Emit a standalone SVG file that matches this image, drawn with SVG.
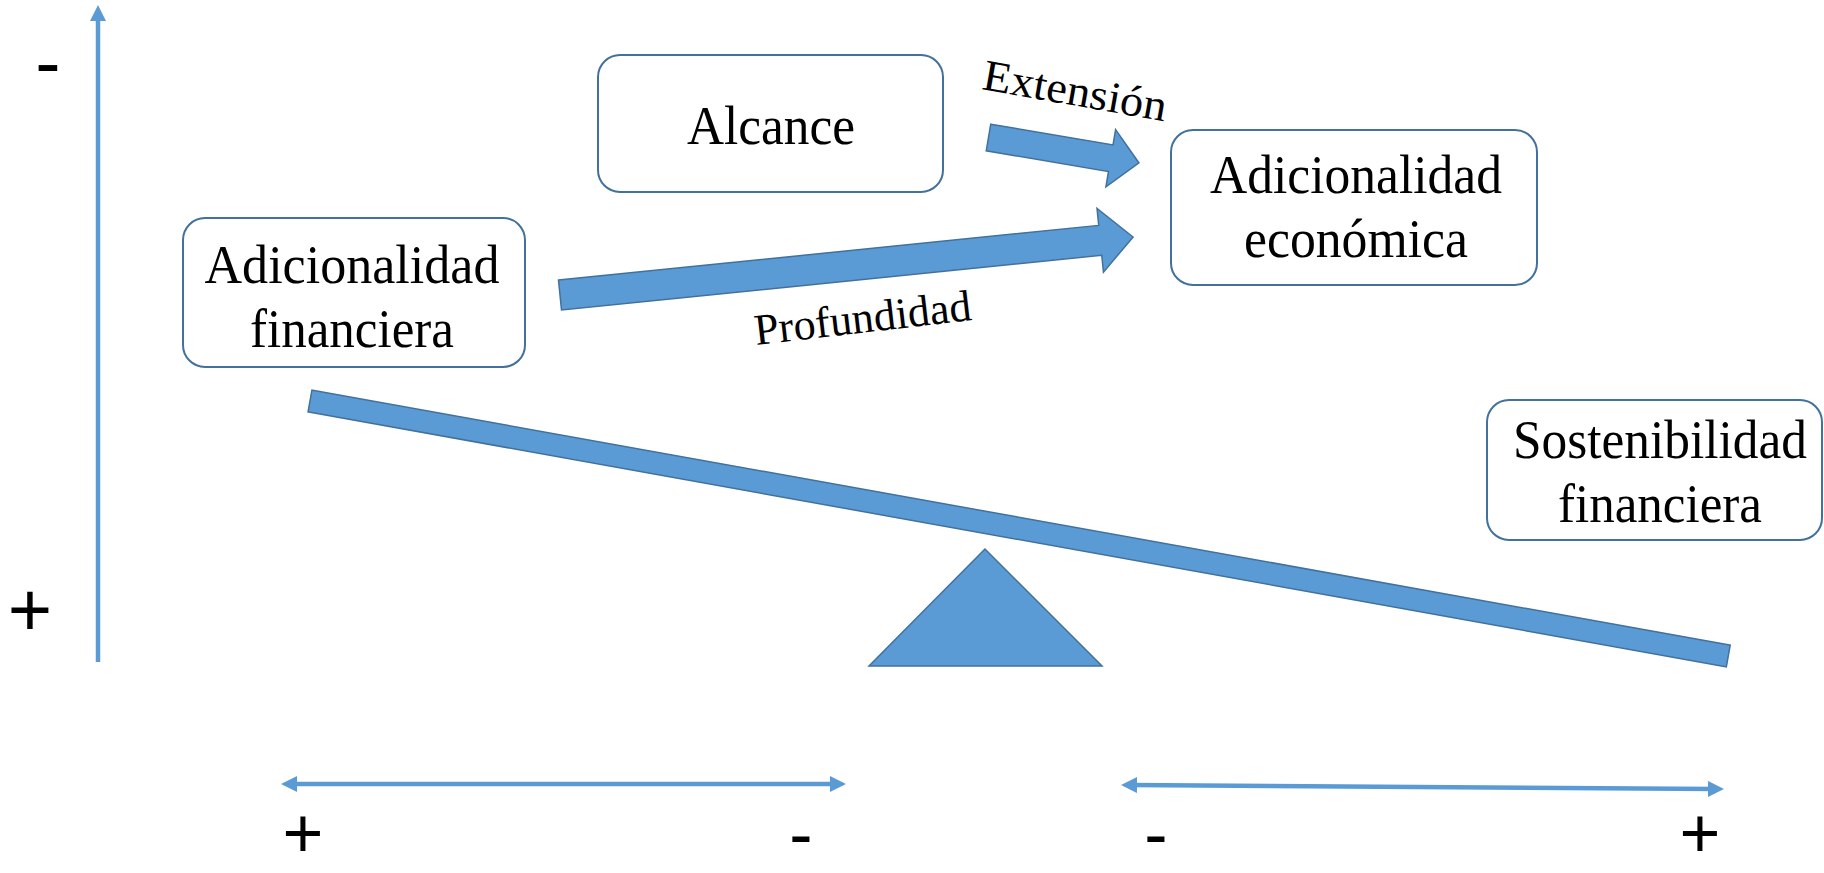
<svg xmlns="http://www.w3.org/2000/svg" width="1824" height="873" viewBox="0 0 1824 873">
  <style>
    .box { fill: #ffffff; stroke: #41719C; stroke-width: 2; }
    .lbl { font-family: "Liberation Serif", "Times New Roman", serif; font-size: 54px; fill: #000; text-anchor: middle; }
    .elbl { font-family: "Liberation Serif", "Times New Roman", serif; font-size: 44px; fill: #000; }
    .shape { fill: #5B9BD5; stroke: #41719C; stroke-width: 1.5; }
    .axis { stroke: #5B9BD5; stroke-width: 4.5; fill: none; }
    .sign { font-family: "Liberation Sans", Arial, sans-serif; font-size: 76px; fill: #000; text-anchor: middle; }
    .bsign { font-family: "Liberation Sans", Arial, sans-serif; font-size: 70px; fill: #000; text-anchor: middle; }
  </style>
  <defs>
    <marker id="ah" viewBox="0 0 16 16" refX="8" refY="8" markerWidth="16" markerHeight="16" markerUnits="userSpaceOnUse" orient="auto-start-reverse">
      <path d="M0,0 L16,8 L0,16 z" fill="#5B9BD5"/>
    </marker>
  </defs>

  <g id="connectors">
    <line class="axis" x1="98" y1="662" x2="98" y2="13" marker-end="url(#ah)"/>
    <line class="axis" x1="289" y1="784" x2="838" y2="784" marker-start="url(#ah)" marker-end="url(#ah)"/>
    <line class="axis" x1="1129" y1="785" x2="1716" y2="789" marker-start="url(#ah)" marker-end="url(#ah)"/>
    <polygon class="shape" transform="translate(988.5,137.5) rotate(9.6)" points="0,-13.5 124,-13.5 124,-29 152.6,0 124,29 124,13.5 0,13.5"/>
    <polygon class="shape" transform="translate(560,295) rotate(-5.78)" points="0,-15 543,-15 543,-32 576,0 543,32 543,15 0,15"/>
    <text class="elbl" transform="translate(981,89) rotate(10)" textLength="186" lengthAdjust="spacingAndGlyphs">Extensión</text>
    <text class="elbl" transform="translate(756,345) rotate(-6.6)" textLength="218" lengthAdjust="spacingAndGlyphs">Profundidad</text>
  </g>

  <g id="balance">
    <rect class="shape" transform="translate(310,401) rotate(10.19)" x="0" y="-11" width="1441" height="22"/>
    <polygon class="shape" points="985,549 869,666 1102,666"/>
  </g>

  <g id="node-alcance">
    <rect class="box" x="598" y="55" width="345" height="137" rx="22"/>
    <text class="lbl" x="771" y="144" textLength="168" lengthAdjust="spacingAndGlyphs">Alcance</text>
  </g>
  <g id="node-adic-financiera">
    <rect class="box" x="183" y="218" width="342" height="149" rx="22"/>
    <text class="lbl" x="352" y="283" textLength="295" lengthAdjust="spacingAndGlyphs">Adicionalidad</text>
    <text class="lbl" x="352" y="347" textLength="204" lengthAdjust="spacingAndGlyphs">financiera</text>
  </g>
  <g id="node-adic-economica">
    <rect class="box" x="1171" y="130" width="366" height="155" rx="22"/>
    <text class="lbl" x="1356" y="193" textLength="292" lengthAdjust="spacingAndGlyphs">Adicionalidad</text>
    <text class="lbl" x="1356" y="257" textLength="224" lengthAdjust="spacingAndGlyphs">económica</text>
  </g>
  <g id="node-sostenibilidad">
    <rect class="box" x="1487" y="400" width="335" height="140" rx="22"/>
    <text class="lbl" x="1660" y="458" textLength="294" lengthAdjust="spacingAndGlyphs">Sostenibilidad</text>
    <text class="lbl" x="1660" y="522" textLength="204" lengthAdjust="spacingAndGlyphs">financiera</text>
  </g>

  <g id="signs">
    <text class="sign" x="48" y="88">-</text>
    <text class="sign" x="30" y="636">+</text>
    <text class="bsign" x="303" y="857">+</text>
    <text class="bsign" x="801" y="858">-</text>
    <text class="bsign" x="1156" y="858">-</text>
    <text class="bsign" x="1700" y="857">+</text>
  </g>
</svg>
